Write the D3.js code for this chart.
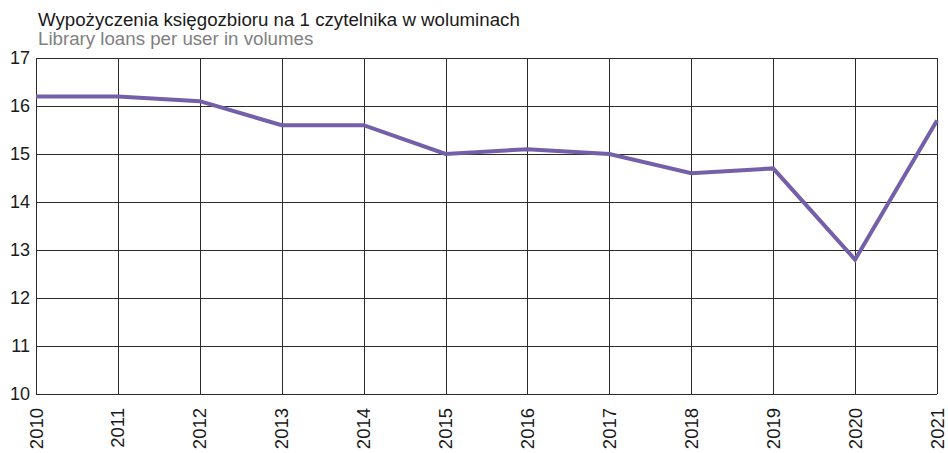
<!DOCTYPE html>
<html>
<head>
<meta charset="utf-8">
<script src="https://cdn.jsdelivr.net/npm/d3@7"></script>
<style>
body { margin: 0; background: #fff; }
text { font-family: "Liberation Sans", Arial, sans-serif; }
</style>
</head>
<body>
<svg id="chart" width="948" height="453"></svg>
<script>
var years = [2010, 2011, 2012, 2013, 2014, 2015, 2016, 2017, 2018, 2019, 2020, 2021];
var loans = [16.2, 16.2, 16.1, 15.6, 15.6, 15.0, 15.1, 15.0, 14.6, 14.7, 12.8, 15.7];
var yTicks = [10, 11, 12, 13, 14, 15, 16, 17];
var titlePl = "Wypożyczenia księgozbioru na 1 czytelnika w woluminach";
var titleEn = "Library loans per user in volumes";

var margins = {left: 36, right: 11, top: 58, bottom: 59};
var svg = d3.select("#chart");
var width = 948 - margins.left - margins.right;
var height = 453 - margins.top - margins.bottom;

var xScale = d3.scalePoint()
    .domain(years)
    .range([0, width]);

var yScale = d3.scaleLinear()
    .domain([10, 17])
    .range([height, 0]);

var graph = svg.append("g")
    .attr("transform", "translate(" + margins.left + "," + margins.top + ")");

// horizontal grid
graph.append("g")
    .selectAll("line")
    .data(yTicks)
    .enter()
    .append("line")
    .attr("x1", 0)
    .attr("x2", width)
    .attr("y1", function(d) { return Math.round(yScale(d)) + 0.5; })
    .attr("y2", function(d) { return Math.round(yScale(d)) + 0.5; })
    .attr("stroke", "#2b2b2b")
    .attr("stroke-width", 1);

// vertical grid
graph.append("g")
    .selectAll("line")
    .data(years)
    .enter()
    .append("line")
    .attr("x1", function(d) { return Math.round(xScale(d)) + 0.5; })
    .attr("x2", function(d) { return Math.round(xScale(d)) + 0.5; })
    .attr("y1", 0)
    .attr("y2", height)
    .attr("stroke", "#2b2b2b")
    .attr("stroke-width", 1);

// y tick labels
graph.append("g")
    .selectAll("text")
    .data(yTicks)
    .enter()
    .append("text")
    .attr("x", -6)
    .attr("y", function(d) { return yScale(d) + 6; })
    .attr("text-anchor", "end")
    .attr("font-size", "18px")
    .attr("fill", "#1a1a1a")
    .text(function(d) { return d; });

// x tick labels, rotated
graph.append("g")
    .selectAll("text")
    .data(years)
    .enter()
    .append("text")
    .attr("transform", function(d) {
        return "translate(" + (xScale(d) + 6.5) + "," + (height + 14) + ") rotate(-90)";
    })
    .attr("text-anchor", "end")
    .attr("font-size", "18.5px")
    .attr("fill", "#1a1a1a")
    .text(function(d) { return d; });

// data line
var line = d3.line()
    .x(function(d, i) { return xScale(years[i]); })
    .y(function(d) { return yScale(d); });

graph.append("path")
    .datum(loans)
    .attr("d", line)
    .attr("fill", "none")
    .attr("stroke", "#7460a9")
    .attr("stroke-width", 4)
    .attr("stroke-linejoin", "miter");

// titles
svg.append("text")
    .attr("x", 38)
    .attr("y", 26)
    .attr("font-size", "18.7px")
    .attr("fill", "#1a1a1a")
    .text(titlePl);

svg.append("text")
    .attr("x", 38)
    .attr("y", 45)
    .attr("font-size", "18.7px")
    .attr("fill", "#808080")
    .text(titleEn);
</script>
</body>
</html>
